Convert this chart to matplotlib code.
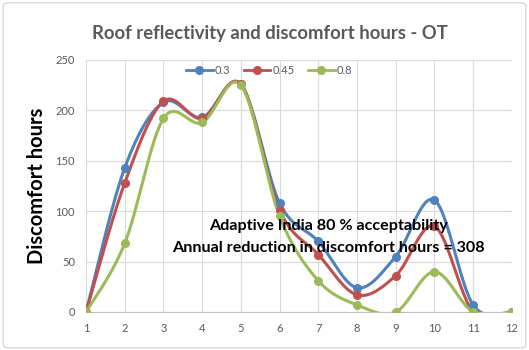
import numpy as np
import matplotlib
matplotlib.use("Agg")
import matplotlib.pyplot as plt
from matplotlib.patches import FancyBboxPatch

plt.rcParams['font.family'] = ['Lato', 'DejaVu Sans']

# hours of discomfort per month
months = [1, 2, 3, 4, 5, 6, 7, 8, 9, 10, 11, 12]
r_03 = [0, 143, 208, 193, 226, 108, 70, 24, 55, 111, 7, 0]
r_045 = [0, 128, 209, 192, 226, 101, 57, 17, 36, 85, 0, 0]
r_08 = [0, 68, 192, 188, 225, 95, 31, 7, 0, 40, 0, 0]

series = [("0.3", r_03, "#4F81BD"),
          ("0.45", r_045, "#C0504D"),
          ("0.8", r_08, "#9BBB59")]


def smooth(x, y, n=30):
    # excel style smoothed line (catmull-rom through the points)
    x = np.asarray(x, float)
    y = np.asarray(y, float)
    px = np.concatenate([[x[0]], x, [x[-1]]])
    py = np.concatenate([[y[0]], y, [y[-1]]])
    xs, ys = [], []
    t = np.linspace(0, 1, n)
    for i in range(1, len(px) - 2):
        p0, p1, p2, p3 = px[i-1:i+3]
        q0, q1, q2, q3 = py[i-1:i+3]
        c1x, c1y = p1 + (p2 - p0) / 6, q1 + (q2 - q0) / 6
        c2x, c2y = p2 - (p3 - p1) / 6, q2 - (q3 - q1) / 6
        bx = (1-t)**3*p1 + 3*(1-t)**2*t*c1x + 3*(1-t)*t**2*c2x + t**3*p2
        by = (1-t)**3*q1 + 3*(1-t)**2*t*c1y + 3*(1-t)*t**2*c2y + t**3*q2
        xs.append(bx)
        ys.append(by)
    return np.concatenate(xs), np.concatenate(ys)


fig = plt.figure(figsize=(5.29, 3.5), dpi=100)
fig.patches.append(FancyBboxPatch((0.006, 0.006), 0.988, 0.986,
                                  boxstyle="round,pad=0,rounding_size=0.01",
                                  transform=fig.transFigure, fill=False,
                                  edgecolor="#d0d0d0", linewidth=0.8))
ax = fig.add_axes([0.1626, 0.1086, 0.805, 0.72])

for name, vals, col in series:
    sx, sy = smooth(months, vals)
    ax.plot(sx, sy, color=col, linewidth=2.2, zorder=3)
    ax.plot(months, vals, 'o', color=col, markersize=5.5, zorder=4)
    ax.plot([], [], '-o', color=col, linewidth=2, markersize=5.5, label=name)

ax.set_xlim(1, 12)
ax.set_ylim(0, 250)
ax.set_xticks(months)
ax.set_yticks(range(0, 251, 50))
ax.grid(True, color="#d9d9d9", linewidth=0.8)
ax.set_axisbelow(True)
for s in ["top", "right", "left"]:
    ax.spines[s].set_visible(False)
ax.spines["bottom"].set_color("#bfbfbf")
ax.tick_params(length=0, labelsize=8, colors="#595959", pad=8)
ax.margins(0)

ax.set_ylabel("Discomfort hours", fontsize=14.5, fontweight="bold", labelpad=6)
fig.text(0.51, 0.905, "Roof reflectivity and discomfort hours - OT",
         ha="center", va="center", fontsize=13.3, fontweight="bold",
         color="#595959")

ax.legend(loc="upper center", bbox_to_anchor=(0.43, 1.02), ncol=3, frameon=False,
          fontsize=8, handlelength=2.4, columnspacing=1.2, handletextpad=0.2,
          labelcolor="#595959")

ax.text(0.57, 0.34, "Adaptive India 80 % acceptability", transform=ax.transAxes,
        ha="center", va="center", fontsize=11.6, fontweight="bold", zorder=5)
ax.text(0.57, 0.253, "Annual reduction in discomfort hours = 308", transform=ax.transAxes,
        ha="center", va="center", fontsize=11.6, fontweight="bold", zorder=5)

fig.savefig("out.png", dpi=100)
